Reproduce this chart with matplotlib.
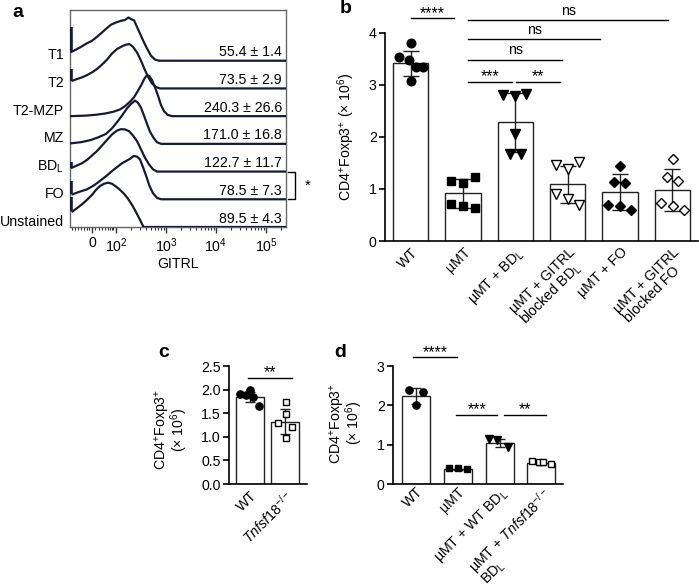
import numpy as np
import matplotlib
matplotlib.use('Agg')
import matplotlib.pyplot as plt
from matplotlib.transforms import blended_transform_factory

plt.rcParams['font.family'] = ['Liberation Sans', 'DejaVu Sans']
plt.rcParams['mathtext.fontset'] = 'custom'
plt.rcParams['mathtext.rm'] = 'Liberation Sans'
plt.rcParams['mathtext.it'] = 'Liberation Sans:italic'
plt.rcParams['mathtext.bf'] = 'Liberation Sans:bold'
FS = 10.2
plt.rcParams['font.size'] = FS

# ---------------- data: panel a (offset histograms, x in display decades) ----
populations = ['T1', 'T2', 'T2-MZP', 'MZ', 'BD$_{\\mathrm{L}}$', 'FO', 'Unstained']
mfi_text = ['55.4 ± 1.4', '73.5 ± 2.9', '240.3 ± 26.6', '171.0 ± 16.8',
            '122.7 ± 11.7', '78.5 ± 7.3', '89.5 ± 4.3']
T1_x = [1.11, 1.20, 1.30, 1.41, 1.52, 1.62, 1.72, 1.82, 1.90, 2.00, 2.10, 2.18,
        2.25, 2.30, 2.36, 2.42, 2.48, 2.55, 2.62, 2.70, 2.78, 2.86]
T1_y = [0.32, 0.40, 0.50, 0.62, 0.72, 0.86, 1.02, 1.18, 1.30, 1.38, 1.44, 1.47,
        1.56, 1.50, 1.46, 1.22, 0.98, 0.70, 0.44, 0.18, 0.04, 0.0]
T2_x = [1.13, 1.22, 1.32, 1.42, 1.52, 1.62, 1.72, 1.82, 1.92, 2.02, 2.12, 2.20,
        2.27, 2.34, 2.42, 2.50, 2.57, 2.64, 2.72, 2.80, 2.88]
T2_y = [0.28, 0.34, 0.40, 0.48, 0.58, 0.70, 0.86, 1.04, 1.26, 1.42, 1.52, 1.58,
        1.60, 1.50, 1.30, 1.00, 0.70, 0.42, 0.18, 0.05, 0.0]
MZP_x = [1.10, 1.40, 1.60, 1.80, 1.95, 2.08, 2.18, 2.28, 2.36, 2.44, 2.51, 2.57,
         2.62, 2.67, 2.72, 2.78, 2.84, 2.90, 2.96, 3.03, 3.12]
MZP_y = [0.0, 0.02, 0.05, 0.10, 0.16, 0.24, 0.36, 0.52, 0.68, 0.92, 1.14, 1.36,
         1.48, 1.44, 1.30, 1.04, 0.74, 0.40, 0.18, 0.05, 0.0]
MZ_x = [1.10, 1.30, 1.50, 1.65, 1.80, 1.92, 2.02, 2.12, 2.22, 2.30, 2.38, 2.44,
        2.50, 2.56, 2.62, 2.68, 2.75, 2.82, 2.90]
MZ_y = [0.02, 0.06, 0.14, 0.24, 0.36, 0.56, 0.78, 1.02, 1.28, 1.44, 1.56, 1.48,
        1.30, 1.02, 0.72, 0.44, 0.22, 0.06, 0.0]
BDL_x = [1.12, 1.22, 1.32, 1.42, 1.52, 1.62, 1.72, 1.82, 1.92, 2.02, 2.10, 2.18,
         2.26, 2.34, 2.42, 2.50, 2.58, 2.66, 2.74, 2.82]
BDL_y = [0.14, 0.22, 0.30, 0.42, 0.58, 0.74, 0.94, 1.14, 1.34, 1.48, 1.53, 1.52,
         1.46, 1.30, 1.10, 0.80, 0.50, 0.26, 0.08, 0.0]
FO_x = [1.13, 1.22, 1.32, 1.42, 1.52, 1.62, 1.72, 1.82, 1.92, 2.02, 2.12, 2.20,
        2.28, 2.35, 2.42, 2.48, 2.54, 2.60, 2.67, 2.74, 2.82, 2.90]
FO_y = [0.18, 0.24, 0.30, 0.36, 0.46, 0.58, 0.72, 0.86, 1.02, 1.16, 1.30, 1.38,
        1.46, 1.56, 1.54, 1.44, 1.16, 0.86, 0.48, 0.22, 0.05, 0.0]
UNS_x = [1.13, 1.22, 1.32, 1.42, 1.52, 1.60, 1.68, 1.76, 1.84, 1.92, 2.00, 2.08,
         2.16, 2.24, 2.32, 2.40, 2.48, 2.55]
UNS_y = [0.56, 0.68, 0.82, 0.98, 1.16, 1.34, 1.48, 1.56, 1.60, 1.56, 1.46, 1.34,
         1.20, 1.02, 0.80, 0.54, 0.26, 0.0]
hist_x = [T1_x, T2_x, MZP_x, MZ_x, BDL_x, FO_x, UNS_x]
hist_y = [T1_y, T2_y, MZP_y, MZ_y, BDL_y, FO_y, UNS_y]
spike_top = [1.20, 0.71, None, None, 0.33, 0.66, 1.10]
a_tick_pos = [1.52, 2, 3, 4, 5]
a_tick_lab = ['0', '10$^2$', '10$^3$', '10$^4$', '10$^5$']

# ---------------- data: panel b ----------------
b_groups = ['WT', 'µMT', 'µMT + BD$_{\\mathrm{L}}$', 'µMT + GITRL\nblocked BD$_{\\mathrm{L}}$',
            'µMT + FO', 'µMT + GITRL\nblocked FO']
b_mean = [3.42, 0.92, 2.28, 1.09, 0.94, 0.98]
b_sd = [0.24, 0.28, 0.56, 0.36, 0.34, 0.40]
b_points = [[3.80, 3.53, 3.49, 3.35, 3.35, 3.08],
            [1.15, 1.12, 1.24, 0.72, 0.67, 0.64],
            [2.81, 2.78, 2.82, 2.06, 1.67, 1.67],
            [1.46, 1.38, 1.51, 0.90, 0.81, 0.69],
            [1.44, 1.14, 1.12, 0.69, 0.67, 0.60],
            [1.57, 1.24, 1.16, 0.74, 0.67, 0.60]]
b_sig = [(0.0, 0.83, 4.28, '****'), (1.10, 4.92, 4.25, 'ns'), (1.10, 3.62, 3.88, 'ns'),
         (1.10, 2.90, 3.49, 'ns'), (1.10, 1.94, 3.06, '***'), (2.02, 2.86, 3.06, '**')]

# ---------------- data: panel c ----------------
c_groups = ['WT', '$\\mathit{Tnfsf18}^{-/-}$']
c_mean = [1.84, 1.32]
c_sd = [0.11, 0.27]
c_points = [[1.90, 1.89, 1.99, 1.85, 1.65], [1.73, 1.48, 1.30, 1.20, 0.97]]
c_sig = [(-0.06, 1.19, 2.25, '**')]

# ---------------- data: panel d ----------------
d_groups = ['WT', 'µMT', 'µMT + WT BD$_{\\mathrm{L}}$',
            'µMT + $\\mathit{Tnfsf18}^{-/-}$\nBD$_{\\mathrm{L}}$']
d_mean = [2.24, 0.37, 1.04, 0.53]
d_sd = [0.21, 0.02, 0.10, 0.04]
d_points = [[2.39, 2.33, 2.01], [0.41, 0.40, 0.37], [1.14, 1.12, 0.95], [0.59, 0.55, 0.55, 0.50]]
d_sig = [(-0.06, 0.98, 3.22, '****'), (0.96, 1.95, 1.76, '***'), (2.11, 3.11, 1.76, '**')]

# ---------------- styles ----------------
b_jit = [[0.01, -0.23, -0.04, 0.11, 0.24, 0.01],
         [-0.23, 0.0, 0.22, -0.23, 0.0, 0.22],
         [-0.23, 0.0, 0.2, 0.0, -0.11, 0.1],
         [-0.23, 0.0, 0.21, -0.23, 0.0, 0.22],
         [0.0, -0.12, 0.1, -0.22, 0.0, 0.21],
         [0.01, -0.11, 0.11, -0.21, 0.01, 0.22]]
b_mk = [('o', 'k', 6.2), ('s', 'k', 5.2), ('v', 'k', 7.2), ('v', 'w', 7.2), ('D', 'k', 5.2), ('D', 'w', 5.2)]
c_jit = [[-0.29, -0.12, 0.0, 0.09, 0.27], [0.02, 0.02, -0.19, 0.19, 0.02]]
c_mk = [('o', 'k', 5.2), ('s', 'w', 5.0)]
d_jit = [[-0.16, 0.17, 0.0], [-0.22, 0.0, 0.22], [-0.24, -0.05, 0.21], [-0.22, -0.06, 0.04, 0.23]]
d_mk = [('o', 'k', 5.2), ('s', 'k', 4.2), ('v', 'k', 5.2), ('s', 'w', 4.4)]

W, H = 699, 588
fig = plt.figure(figsize=(W / 100, H / 100), dpi=100)


def rect(l, t, r, b):
    return [l / W, 1 - b / H, (r - l) / W, (b - t) / H]


LINE = '#161a36'

# ---------------- panel a ----------------
axa = fig.add_axes(rect(70, 10, 286, 227))
nrow = len(populations)
for i in range(nrow):
    r = nrow - 1 - i
    xs = list(hist_x[i]) + [5.4]
    ys = [v + r for v in hist_y[i]] + [r]
    axa.plot(xs, ys, color=LINE, lw=1.6, solid_joinstyle='round', zorder=3)
    if spike_top[i] is not None:
        axa.plot([hist_x[i][0] - 0.02, hist_x[i][0] - 0.02], [r + hist_y[i][0], r + spike_top[i]],
                 color=LINE, lw=2.6, solid_capstyle='butt', zorder=3)
axa.set_xlim(1.08, 5.4)
axa.set_ylim(0, 7.83)
axa.set_yticks([])
axa.set_xticks(a_tick_pos)
axa.set_xticklabels(a_tick_lab)
minor = [1.12, 1.18, 1.24, 1.30, 1.36, 1.42, 1.47, 1.58, 1.66, 1.73, 1.79, 1.84, 1.88, 1.92, 1.95]
minor += [k + np.log10(m) for k in (2, 3, 4) for m in range(2, 10)] + [5 + np.log10(2)]
axa.set_xticks(minor, minor=True)
axa.tick_params(axis='x', which='major', length=4, width=1, color='#333', pad=2.5, labelsize=FS)
axa.tick_params(axis='x', which='minor', length=2.5, width=0.8, color='#333')
for s in axa.spines.values():
    s.set_color('#666')
    s.set_linewidth(1)
axa.set_xlabel('GITRL', labelpad=1.5, fontsize=FS)
tr = blended_transform_factory(axa.transAxes, axa.transData)
for i in range(nrow):
    r = nrow - 1 - i
    axa.text(-0.028, r + 0.05, populations[i], transform=tr, ha='right', va='baseline', fontsize=FS)
    axa.text(0.981, r + 0.16, mfi_text[i], transform=tr, ha='right', va='baseline', fontsize=FS)
axa.plot([1.009, 1.042, 1.042, 1.009], [2, 2, 1, 1], transform=tr, color='k', lw=1, clip_on=False)
axa.text(1.10, 1.5, '*', transform=tr, ha='center', va='center', fontsize=11)


# ---------------- helper for bar panels ----------------
def bar_panel(ax, groups, means, sds, points, jit, mk, sig, width, capsize, ast_dy, ns_dy, xpad=3):
    x = np.arange(len(groups))
    ax.bar(x, means, width, color='white', edgecolor='#222', lw=1, zorder=1)
    ax.errorbar(x, means, yerr=sds, fmt='none', ecolor='#222', elinewidth=1,
                capsize=capsize, capthick=1, zorder=2)
    for i, pts in enumerate(points):
        m, fc, ms = mk[i]
        ax.plot(x[i] + np.array(jit[i]), pts, linestyle='none', marker=m, mfc=fc, mec='k',
                ms=ms, mew=1, zorder=3, clip_on=False)
    for x1, x2, y, lab in sig:
        ax.plot([x1, x2], [y, y], color='k', lw=1, clip_on=False)
        dy = ns_dy if lab == 'ns' else ast_dy
        ax.text((x1 + x2) / 2, y + dy, lab, ha='center', va='baseline',
                fontsize=FS if lab == 'ns' else 11.5, clip_on=False)
    ax.set_xticks(x)
    ax.set_xticklabels(groups, rotation=45, ha='right', va='top', rotation_mode='anchor',
                       multialignment='left', linespacing=0.95, fontsize=FS)
    ax.tick_params(axis='x', length=0, pad=xpad)
    ax.tick_params(axis='y', length=4, width=1.2, pad=2, labelsize=FS)
    for s in ('top', 'right'):
        ax.spines[s].set_visible(False)
    for s in ('left', 'bottom'):
        ax.spines[s].set_linewidth(1.2)


# ---------------- panel b ----------------
axb = fig.add_axes(rect(385, 14.8, 698, 241))
bar_panel(axb, b_groups, b_mean, b_sd, b_points, b_jit, b_mk, b_sig, 0.67, 6, 0.01, 0.10)
axb.set_xlim(-0.49, 5.49)
axb.set_ylim(0, 4.35)
axb.set_yticks([0, 1, 2, 3, 4])
axb.spines['left'].set_bounds(0, 4)
axb.set_ylabel('CD4$^{+}$Foxp3$^{+}$ (× 10$^{6}$)', fontsize=FS)
axb.yaxis.set_label_coords(-0.089, 0.46)

# ---------------- panel c ----------------
axc = fig.add_axes(rect(229, 366, 307, 484))
bar_panel(axc, c_groups, c_mean, c_sd, c_points, c_jit, c_mk, c_sig, 0.8, 3.5, 0.01, 0.1)
axc.set_xlim(-0.6, 1.63)
axc.set_ylim(0, 2.5)
axc.set_yticks([0, 0.5, 1.0, 1.5, 2.0, 2.5])
axc.set_yticklabels(['0.0', '0.5', '1.0', '1.5', '2.0', '2.5'])
axc.set_ylabel('CD4$^{+}$Foxp3$^{+}$\n(× 10$^{6}$)', fontsize=FS, multialignment='center',
               linespacing=0.75)
axc.yaxis.set_label_coords(-0.5, 0.46)

# ---------------- panel d ----------------
axd = fig.add_axes(rect(393, 348.4, 563, 484))
bar_panel(axd, d_groups, d_mean, d_sd, d_points, d_jit, d_mk, d_sig, 0.67, 3.5, 0.02, 0.1, xpad=0.5)
axd.set_xlim(-0.55, 3.52)
axd.set_ylim(0, 3.45)
axd.set_yticks([0, 1, 2, 3])
axd.spines['left'].set_bounds(0, 3)
axd.set_ylabel('CD4$^{+}$Foxp3$^{+}$\n(× 10$^{6}$)', fontsize=FS, multialignment='center',
               linespacing=0.75)
axd.yaxis.set_label_coords(-0.165, 0.45)

# ---------------- panel letters ----------------
for lab, px, py in [('a', 12, 17), ('b', 340, 13), ('c', 158, 357), ('d', 334, 357)]:
    fig.text(px / W, 1 - py / H, lab, fontsize=14, fontweight='bold', ha='left', va='baseline')

fig.savefig('out.png', dpi=100)
